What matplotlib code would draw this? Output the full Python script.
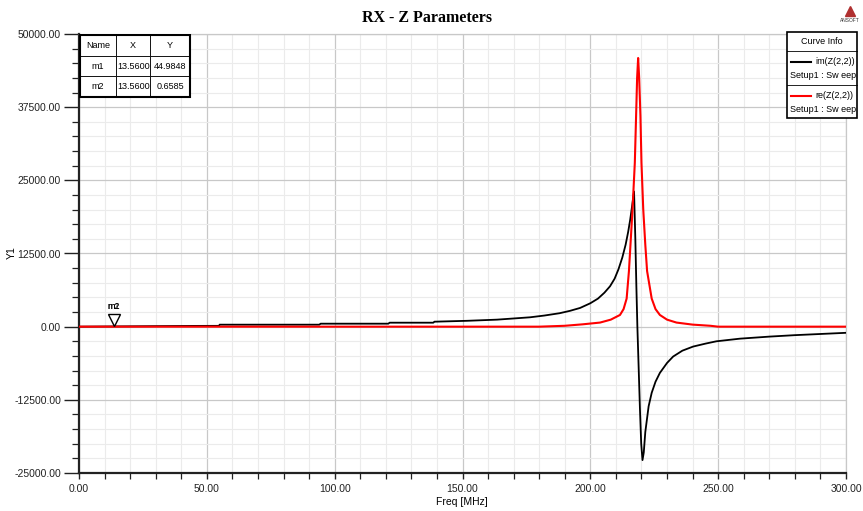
import numpy as np
import matplotlib.pyplot as plt
from matplotlib.ticker import MultipleLocator, FormatStrFormatter
from matplotlib.patches import Rectangle
from matplotlib.lines import Line2D
import matplotlib.transforms as mtransforms

plt.rcParams['font.family'] = ['Liberation Sans', 'DejaVu Sans']

# im(Z(2,2))
im_freq = [0, 10, 20, 30, 45, 54.8, 55, 94, 94.5, 121, 121.5, 138.6, 139, 151.7,
           163.5, 170, 176.4, 182, 188, 192, 196, 200, 203, 205.5, 207.7, 209.5,
           211, 212.5, 213.8, 214.8, 215.6, 216.3, 217.1, 217.6, 218.0, 218.4,
           218.9, 219.4, 219.9, 220.4, 220.9, 221.5, 222.8, 224, 225.5, 227.2,
           230, 232.4, 236, 240.2, 245, 249.3, 258.5, 270, 280, 290, 300]
im_vals = [0, 30, 60, 90, 130, 140, 340, 340, 510, 510, 680, 680, 850, 1000,
           1200, 1400, 1600, 1900, 2300, 2700, 3200, 4000, 4800, 5800, 6900, 8200,
           9800, 11800, 14000, 16200, 18300, 20500, 23100, 15000, 7000, 0,
           -7000, -14000, -20000, -22800, -21500, -18000, -13600, -11300, -9400, -7900,
           -6200, -5100, -4100, -3400, -2900, -2500, -2050, -1700, -1450, -1250, -1050]

# re(Z(2,2))
re_freq = [0, 180, 190, 197, 203.8, 208, 211.6, 213, 214.2, 215.1, 215.7, 216.5,
           217.4, 217.9, 218.3, 218.7, 219.1, 219.6, 220.0, 220.7, 221.5, 222.2,
           224.0, 225.5, 227.2, 230, 233.7, 240, 247, 250, 300]
re_vals = [0, 0, 150, 400, 700, 1200, 2000, 3000, 4800, 9500, 14000, 20000,
           28000, 36000, 42500, 45900, 42500, 36000, 28000, 20000, 14000, 9500,
           4800, 3000, 2000, 1200, 700, 350, 150, 0, 0]

table_rows = [['Name', 'X', 'Y'],
              ['m1', '13.5600', '44.9848'],
              ['m2', '13.5600', '0.6585']]
marker_x = 13.56
marker_y = 0.6585

W, H = 863, 511
fx = lambda x: x / W
fy = lambda y: 1 - y / H

fig = plt.figure(figsize=(8.63, 5.11), dpi=100)
ax = fig.add_axes([fx(79), fy(473), (846 - 79) / W, (473 - 34) / H])

ax.plot(im_freq, im_vals, color='black', lw=1.3, zorder=3)
ax.plot(re_freq, re_vals, color='red', lw=1.5, zorder=4)

ax.set_xlim(0, 300)
ax.set_ylim(-25000, 50000)
ax.xaxis.set_major_locator(MultipleLocator(50))
ax.xaxis.set_minor_locator(MultipleLocator(10))
ax.yaxis.set_major_locator(MultipleLocator(12500))
ax.yaxis.set_minor_locator(MultipleLocator(2500))
ax.xaxis.set_major_formatter(FormatStrFormatter('%.2f'))
ax.yaxis.set_major_formatter(FormatStrFormatter('%.2f'))
ax.grid(which='major', color='#c8c8c8', lw=0.9)
ax.grid(which='minor', color='#ebebeb', lw=0.8)
ax.set_axisbelow(True)

ax.tick_params(axis='y', which='major', direction='out', length=11, width=1,
               labelsize=7.5, pad=2, colors='#222')
ax.tick_params(axis='y', which='minor', direction='out', length=5, width=0.9, color='#222')
ax.tick_params(axis='x', which='major', direction='out', length=4, width=1,
               labelsize=7.5, pad=4, colors='#222')
ax.tick_params(axis='x', which='minor', direction='out', length=4, width=0.9, color='#222')
for s in ['left', 'bottom']:
    ax.spines[s].set_linewidth(1.6)
    ax.spines[s].set_color('#222')
for s in ['top', 'right']:
    ax.spines[s].set_linewidth(0.9)
    ax.spines[s].set_color('#c8c8c8')

# marker m1/m2
off = mtransforms.ScaledTranslation(0, 5 / 72, fig.dpi_scale_trans)
ax.plot([marker_x], [marker_y], marker='v', ms=8, mfc='white', mec='black',
        mew=1, transform=ax.transData + off, zorder=6, clip_on=False)
for lab in ['m1', 'm2']:
    ax.annotate(lab, xy=(marker_x, marker_y), xytext=(0, 14.5),
                textcoords='offset points', ha='center', va='center', fontsize=6.5)

# marker table
tbl = ax.table(cellText=table_rows, cellLoc='center',
               colWidths=[36, 34, 39],
               bbox=[0.001, 0.8565, 110 / 767, 0.1412])
tbl.auto_set_font_size(False)
tbl.set_fontsize(6.5)
for cell in tbl.get_celld().values():
    cell.set_linewidth(0.6)
    cell.set_facecolor('white')
tbl.set_zorder(7)
ax.add_patch(Rectangle((0.001, 0.8565), 110 / 767, 0.1412, transform=ax.transAxes,
                       fill=False, ec='black', lw=1.5, zorder=8))

# curve info box
fig.add_artist(Rectangle((fx(787), fy(118)), (857 - 787) / W, (118 - 32) / H,
                         transform=fig.transFigure, fc='white', ec='black', lw=1.2, zorder=10))
fig.text(fx(822), fy(42), 'Curve Info', ha='center', va='center', fontsize=6.5, zorder=11)
for y in [51, 85]:
    fig.add_artist(Line2D([fx(787), fx(857)], [fy(y), fy(y)], color='black', lw=0.6, zorder=11))
for yl, col, name in [(62, 'black', 'im(Z(2,2))'), (96, 'red', 're(Z(2,2))')]:
    fig.add_artist(Line2D([fx(791), fx(811)], [fy(yl), fy(yl)], color=col, lw=1.5, zorder=11))
    fig.text(fx(815), fy(yl), name, va='center', fontsize=6.5, zorder=11)
    fig.text(fx(790), fy(yl + 14), 'Setup1 : Sw eep', va='center', fontsize=6.5, zorder=11)

# logo
fig.add_artist(Line2D([fx(850)], [fy(11)], marker='^', ms=7, color='#b03030', zorder=11))
fig.text(fx(850), fy(20), 'ANSOFT', ha='center', va='center', fontsize=3.5, color='#333')

fig.text(fx(427), fy(18), 'RX - Z Parameters', ha='center', va='center',
         family='Liberation Serif', weight='bold', fontsize=11.5)
fig.text(fx(12), fy(253), 'Y1', rotation=90, ha='center', va='center', fontsize=7.5)
fig.text(fx(462), fy(502), 'Freq [MHz]', ha='center', va='center', fontsize=7.5)

fig.savefig('out.png', dpi=100)
